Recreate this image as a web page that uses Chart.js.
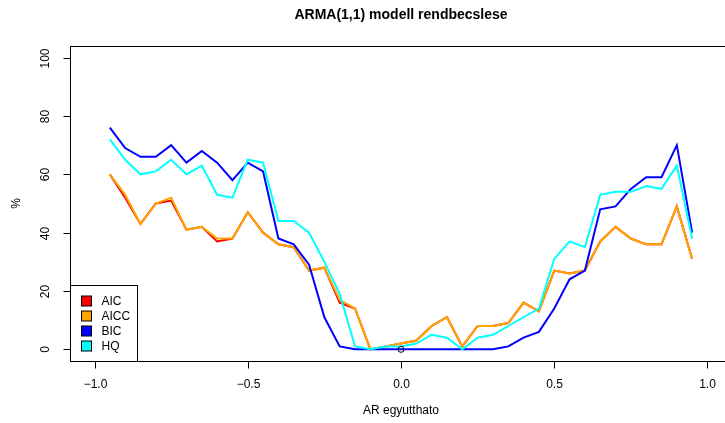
<!DOCTYPE html>
<html lang="hu">
<head>
    <meta charset="UTF-8">
    <title>ARMA(1,1) modell rendbecslese</title>
    <script src="https://cdnjs.cloudflare.com/ajax/libs/Chart.js/4.4.0/chart.umd.min.js"></script>
    <style>
        html, body { margin: 0; padding: 0; background: #fff; overflow: hidden; }
        #wrap { width: 740px; height: 423px; }
    </style>
</head>
<body>
    <div id="wrap">
        <canvas id="chartArma" width="740" height="423"></canvas>
    </div>

    <script>
        // AR egyutthato ertekei
        const arCoef = [-0.95, -0.9, -0.85, -0.8, -0.75, -0.7, -0.65, -0.6, -0.55, -0.5,
                        -0.45, -0.4, -0.35, -0.3, -0.25, -0.2, -0.15, -0.1, -0.05, 0,
                        0.05, 0.1, 0.15, 0.2, 0.25, 0.3, 0.35, 0.4, 0.45, 0.5,
                        0.55, 0.6, 0.65, 0.7, 0.75, 0.8, 0.85, 0.9, 0.95];

        // talalati arany (%) kriteriumonkent
        const aic  = [60, 52, 43, 50, 51, 41, 42, 37, 38, 47, 40, 36, 35, 27, 28, 16, 14, 0, 1, 2,
                      3, 8, 11, 1, 8, 8, 9, 16, 13, 27, 26, 27, 37, 42, 38, 36, 36, 49, 31];
        const aicc = [60, 53, 43, 50, 52, 41, 42, 38, 38, 47, 40, 36, 35, 27, 28, 17, 14, 0, 1, 2,
                      3, 8, 11, 1, 8, 8, 9, 16, 13, 27, 26, 27, 37, 42, 38, 36, 36, 49, 31];
        const bic  = [76, 69, 66, 66, 70, 64, 68, 64, 58, 64, 61, 38, 36, 29, 11, 1, 0, 0, 0, 0,
                      0, 0, 0, 0, 0, 0, 1, 4, 6, 14, 24, 27, 48, 49, 55, 59, 59, 70, 40];
        const hq   = [72, 65, 60, 61, 65, 60, 63, 53, 52, 65, 64, 44, 44, 40, 30, 19, 1, 0, 1, 1,
                      2, 5, 4, 0, 4, 5, 8, 11, 14, 31, 37, 35, 53, 54, 54, 56, 55, 63, 38];

        // kor a (0,0) pontban
        const markX = [0];
        const markY = [0];

        const seriesNames = ['AIC', 'AICC', 'BIC', 'HQ'];
        const seriesColors = ['#ff0000', '#ffa500', '#0000ff', '#00ffff'];

        const xTicks = [-1, -0.5, 0, 0.5, 1];
        const xTickLabels = ['\u22121.0', '\u22120.5', '0.0', '0.5', '1.0'];
        const yTicks = [0, 20, 40, 60, 80, 100];

        const FONT = '"Liberation Sans", Arial, Helvetica, sans-serif';

        function toPoints(ys) {
            return arCoef.map((x, i) => ({ x: x, y: ys[i] }));
        }

        // tengelyek, feliratok es jelmagyarazat kirajzolasa (R stilus)
        const baseGraphics = {
            id: 'baseGraphics',
            afterDraw(chart) {
                const ctx = chart.ctx;
                const a = chart.chartArea;
                const xs = chart.scales.x;
                const ys = chart.scales.y;
                ctx.save();
                ctx.strokeStyle = '#000';
                ctx.fillStyle = '#000';
                ctx.lineWidth = 1;

                const L = Math.round(a.left) + 0.5;
                const T = Math.round(a.top) + 0.5;
                const R = Math.round(a.right) + 0.5;
                const B = Math.round(a.bottom) + 0.5;
                ctx.strokeRect(L, T, R - L, B - T);

                // x tengely
                ctx.font = '12px ' + FONT;
                ctx.textAlign = 'center';
                ctx.textBaseline = 'middle';
                xTicks.forEach((v, i) => {
                    const px = Math.round(xs.getPixelForValue(v)) + 0.5;
                    ctx.beginPath();
                    ctx.moveTo(px, B);
                    ctx.lineTo(px, B + 7);
                    ctx.stroke();
                    ctx.fillText(xTickLabels[i], px, B + 23);
                });

                // y tengely
                yTicks.forEach(v => {
                    const py = Math.round(ys.getPixelForValue(v)) + 0.5;
                    ctx.beginPath();
                    ctx.moveTo(L, py);
                    ctx.lineTo(L - 7, py);
                    ctx.stroke();
                    ctx.save();
                    ctx.translate(L - 25, py);
                    ctx.rotate(-Math.PI / 2);
                    ctx.fillText(String(v), 0, 0);
                    ctx.restore();
                });

                // cimek
                const cx = (a.left + a.right) / 2;
                ctx.fillText('AR egyutthato', cx, 411);
                ctx.save();
                ctx.translate(17, (a.top + a.bottom) / 2);
                ctx.rotate(-Math.PI / 2);
                ctx.fillText('%', 0, 0);
                ctx.restore();

                ctx.font = 'bold 14px ' + FONT;
                ctx.fillText('ARMA(1,1) modell rendbecslese', cx, 15);

                // jelmagyarazat bal also sarokban
                const lw = 67, lh = 76;
                const lx = L, ly = B - lh;
                ctx.fillStyle = '#fff';
                ctx.fillRect(lx, ly, lw, lh);
                ctx.strokeRect(lx, ly, lw, lh);
                ctx.font = '12px ' + FONT;
                ctx.textAlign = 'left';
                seriesNames.forEach((name, i) => {
                    const ry = Math.round(ly + 15.5 + i * 15);
                    ctx.fillStyle = seriesColors[i];
                    ctx.fillRect(lx + 11, ry - 5, 10, 10);
                    ctx.strokeRect(lx + 11, ry - 5, 10, 10);
                    ctx.fillStyle = '#000';
                    ctx.fillText(name, lx + 31, ry + 1);
                });
                ctx.restore();
            }
        };

        const allSeries = [aic, aicc, bic, hq];
        const datasets = allSeries.map((s, i) => ({
            label: seriesNames[i],
            data: toPoints(s),
            borderColor: seriesColors[i],
            backgroundColor: seriesColors[i],
            borderWidth: 2,
            pointRadius: 0,
            tension: 0,
            fill: false,
            order: 4 - i
        }));
        datasets.push({
            label: 'nulla',
            data: markX.map((x, i) => ({ x: x, y: markY[i] })),
            showLine: false,
            pointRadius: 3,
            pointBorderWidth: 1,
            pointBorderColor: '#000',
            pointBackgroundColor: 'rgba(0,0,0,0)',
            order: 0
        });

        new Chart(document.getElementById('chartArma').getContext('2d'), {
            type: 'line',
            data: { datasets: datasets },
            options: {
                responsive: false,
                animation: false,
                layout: { padding: { left: 70, top: 46, right: 8, bottom: 62 } },
                plugins: {
                    legend: { display: false },
                    title: { display: false },
                    tooltip: { enabled: false }
                },
                scales: {
                    x: {
                        type: 'linear',
                        min: -1.08, max: 1.08,
                        display: false
                    },
                    y: {
                        min: -4, max: 104,
                        display: false
                    }
                }
            },
            plugins: [baseGraphics]
        });
    </script>
</body>
</html>
